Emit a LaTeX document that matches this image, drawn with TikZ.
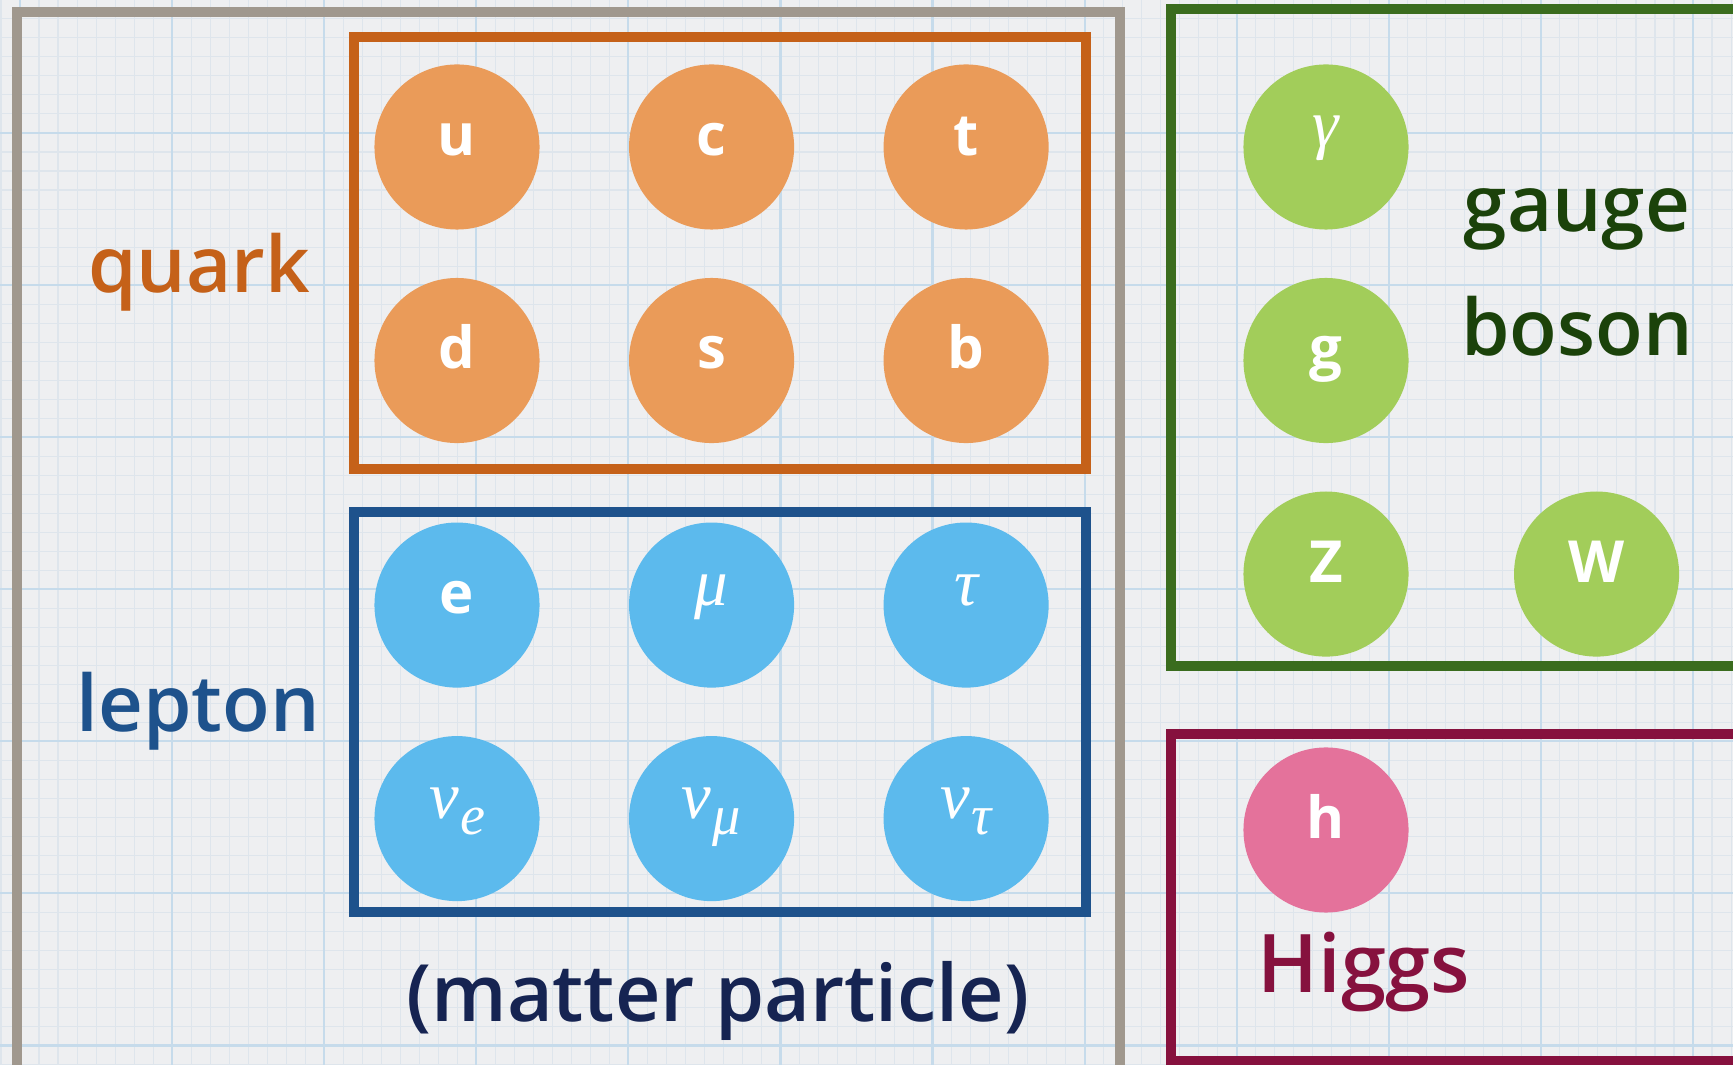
\documentclass[tikz,border=0pt]{standalone}
\usepackage{fontspec}
\setmainfont{Open Sans}
\newfontfamily\labelfont{Open Sans Semibold}
\newfontfamily\greekfont{Liberation Serif}
\usepackage{tikz}
\usetikzlibrary{positioning}
\definecolor{paper}{RGB}{238,239,241}
\definecolor{gridminor}{RGB}{222,229,236}
\definecolor{gridmajor}{RGB}{198,219,235}
\definecolor{mattergray}{RGB}{160,152,142}
\definecolor{quarkline}{RGB}{197,97,25}
\definecolor{quarkfill}{RGB}{234,155,89}
\definecolor{leptonline}{RGB}{30,82,140}
\definecolor{leptonfill}{RGB}{92,186,237}
\definecolor{gaugeline}{RGB}{58,108,30}
\definecolor{gaugefill}{RGB}{162,205,90}
\definecolor{gaugetext}{RGB}{27,66,10}
\definecolor{higgsline}{RGB}{134,17,62}
\definecolor{higgsfill}{RGB}{228,114,155}
\definecolor{mattertext}{RGB}{22,36,82}
\newcommand{\nuflav}[1]{ν\kern0.02em\raisebox{-4.5pt}{\fontsize{16}{16}\selectfont #1}}

\begin{document}
\begin{tikzpicture}[
  x=0.01cm, y=0.01cm,
  node distance=0.47cm and 0.88cm,
  ball/.style={circle, minimum size=1.65cm, inner sep=0pt, text=white,
    font=\bfseries\fontsize{16.5}{17}\selectfont, text height=4.6pt, text depth=0pt},
  greekball/.style={font=\greekfont\itshape\fontsize{19}{19}\selectfont,
    text height=0pt, text depth=0pt},
  quarkball/.style={ball, fill=quarkfill},
  leptonball/.style={ball, fill=leptonfill},
  gaugeball/.style={ball, fill=gaugefill},
  higgsball/.style={ball, fill=higgsfill},
  frame/.style={line width=0.1cm},
  tag/.style={font=\labelfont\fontsize{22.2}{27}\selectfont, anchor=base, inner sep=0pt}
]
\useasboundingbox (0,0) rectangle (1733,-1065);
\clip (0,0) rectangle (1733,-1065);
% graph paper
\fill[paper] (0,0) rectangle (1733,-1065);
\begin{scope}[shift={(20,-133)}]
  \draw[gridminor, line width=0.3pt, step=0.19cm] (-40,160) grid (1730,-950);
  \draw[gridmajor, line width=0.6pt, step=1.52cm] (-40,160) grid (1730,-950);
\end{scope}
% frames
\draw[frame, mattergray] (17,-12) rectangle (1120,-1100);
\draw[frame, quarkline] (354,-37) rectangle (1086,-469);
\draw[frame, leptonline] (354,-512) rectangle (1086,-912);
\draw[frame, gaugeline] (1171,-9) rectangle (1800,-666);
\draw[frame, higgsline] (1171,-734) rectangle (1800,-1061);
% quarks
\node[quarkball] (u) at (457,-147) {u};
\node[quarkball, right=of u] (c) {c};
\node[quarkball, right=of c] (t) {t};
\node[quarkball, below=of u] (d) {d};
\node[quarkball, right=of d] (s) {s};
\node[quarkball, right=of s] (b) {b};
% leptons
\node[leptonball, below=0.78cm of d] (e) {e};
\node[leptonball, greekball, right=of e] (mu) {μ};
\node[leptonball, greekball, right=of mu] (tau) {τ};
\node[leptonball, greekball, below=of e] (nue) {\nuflav{e}};
\node[leptonball, greekball, right=of nue] (numu) {\nuflav{μ}};
\node[leptonball, greekball, right=of numu] (nutau) {\nuflav{τ}};
% bosons
\node[gaugeball, greekball] (gamma) at (1326,-147) {γ};
\node[gaugeball, below=of gamma] (g) {g};
\node[gaugeball, below=of g] (Z) {Z};
\node[gaugeball, right=1.04cm of Z] (W) {W};
\node[higgsball] (h) at (1326,-830) {h};
% labels
\node[tag, text=quarkline] (quarklbl) at (199,-293) {quark};
\node[tag, text=leptonline] (leptonlbl) at (198,-732) {lepton};
\node[tag, text=mattertext, font=\labelfont\fontsize{22.5}{27}\selectfont] (matterlbl) at (718,-1022) {(matter particle)};
\node[tag, text=gaugetext] (gaugelbl) at (1577,-232) {gauge};
\node[tag, text=gaugetext] (bosonlbl) at (1577,-356) {boson};
\node[tag, text=higgsline, font=\labelfont\fontsize{23}{27}\selectfont] (higgslbl) at (1364,-993) {Higgs};
\end{tikzpicture}
\end{document}
